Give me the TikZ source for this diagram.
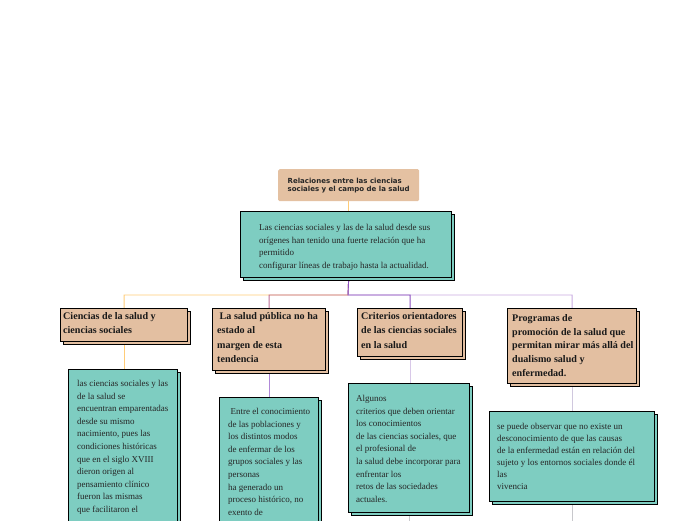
\documentclass[tikz,border=0pt]{standalone}
\usepackage{fontspec}
\setmainfont{Liberation Serif}
\newfontfamily\titlefont{DejaVu Sans}
\usetikzlibrary{shadows}
\pgfdeclarelayer{background}
\pgfsetlayers{background,main}
\definecolor{tealbox}{RGB}{126,205,193}
\definecolor{tanbox}{RGB}{227,191,161}
\definecolor{titlebox}{RGB}{228,193,162}
\definecolor{lnorange}{RGB}{255,204,120}
\definecolor{lnmauve}{RGB}{190,110,150}
\definecolor{lnpurple}{RGB}{140,80,190}
\definecolor{lnlilac}{RGB}{200,170,225}
\definecolor{lnmid}{RGB}{176,136,216}
\definecolor{lnlav}{RGB}{216,200,232}
\definecolor{lnlav2}{RGB}{208,200,222}
\definecolor{lngray}{RGB}{200,200,204}
\tikzset{
  boxbase/.style={draw=black, line width=1.1pt, inner sep=0pt, anchor=north west},
  tealnode/.style={boxbase, fill=tealbox,
    general shadow={shadow xshift=3pt, shadow yshift=-3pt, fill=tealbox, draw=black, line width=1.1pt}},
  tannode/.style={boxbase, fill=tanbox,
    general shadow={shadow xshift=3pt, shadow yshift=-3pt, fill=tanbox, draw=black, line width=1.1pt}},
  bodytext/.style={anchor=north west, inner sep=0pt, align=left, text=black!85,
    font=\fontsize{9}{12.6}\selectfont},
  headtext/.style={anchor=north west, inner sep=0pt, align=left, text=black!90,
    font=\fontsize{10.1}{14.4}\selectfont\bfseries},
  conn/.style={line width=0.9pt}
}
\begin{document}
\begin{tikzpicture}[x=1pt,y=-1pt]
\useasboundingbox (0,0) rectangle (696,520);
\clip (0,0) rectangle (696,520);
% title
\node[fill=titlebox, rounded corners=1.5pt, anchor=north west, minimum width=141pt, minimum height=32pt,
  inner sep=0pt, align=left, font=\titlefont\fontsize{7}{8}\selectfont\bfseries, text=black!85]
  (title) at (278,169) {Relaciones entre las ciencias\\sociales y el campo de la salud};
% main box
\node[tealnode, minimum width=211pt, minimum height=66pt] (main) at (240,211) {};
\node[bodytext] (maintxt) at (259,224) {Las ciencias sociales y las de la salud desde sus\\orígenes han tenido una fuerte relación que ha\\permitido\\configurar líneas de trabajo hasta la actualidad.};
% level 2 tan boxes
\node[tannode, minimum width=127pt, minimum height=33pt] (c1) at (60,308) {};
\node[headtext] (c1txt) at (63,312) {Ciencias de la salud y\\ciencias sociales};
\node[tannode, minimum width=113pt, minimum height=62pt] (c2) at (212,308) {};
\node[headtext] (c2txt) at (217,312) {\hspace*{2.5pt}La salud pública no ha\\estado al\\margen de esta\\tendencia};
\node[tannode, minimum width=105pt, minimum height=48pt] (c3) at (357,308) {};
\node[headtext] (c3txt) at (361,312) {Criterios orientadores\\de las ciencias sociales\\en la salud};
\node[tannode, minimum width=129pt, minimum height=75pt] (c4) at (507,308) {};
\node[headtext, font=\fontsize{10.1}{13.8}\selectfont\bfseries] (c4txt) at (512,314) {Programas de\\promoción de la salud que\\permitan mirar más allá del\\dualismo salud y\\enfermedad.};
% level 3 teal boxes
\node[tealnode, minimum width=109pt, minimum height=170pt] (t1) at (68,369) {};
\node[bodytext] (t1txt) at (77,380) {las ciencias sociales y las\\de la salud se\\encuentran emparentadas\\desde su mismo\\nacimiento, pues las\\condiciones históricas\\que en el siglo XVIII\\dieron origen al\\pensamiento clínico\\fueron las mismas\\que facilitaron el};
\node[tealnode, minimum width=99pt, minimum height=150pt] (t2) at (219,397) {};
\node[bodytext] (t2txt) at (228,408) {\hspace*{2.5pt}Entre el conocimiento\\de las poblaciones y\\los distintos modos\\de enfermar de los\\grupos sociales y las\\personas\\ha generado un\\proceso histórico, no\\exento de};
\node[tealnode, minimum width=121pt, minimum height=129pt] (t3) at (348,383) {};
\node[bodytext] (t3txt) at (356,395) {Algunos\\criterios que deben orientar\\los conocimientos\\de las ciencias sociales, que\\el profesional de\\la salud debe incorporar para\\enfrentar los\\retos de las sociedades\\actuales.};
\node[tealnode, minimum width=165pt, minimum height=90pt] (t4) at (489,411) {};
\node[bodytext, font=\fontsize{9}{12.1}\selectfont] (t4txt) at (497,423) {se puede observar que no existe un\\desconocimiento de que las causas\\de la enfermedad están en relación del\\sujeto y los entornos sociales donde él\\las\\vivencia};
% ends of open connectors
\coordinate (bar) at (348,295);
\coordinate (e3) at (409,530);
\coordinate (e4) at (572,530);
\begin{pgfonlayer}{background}
\draw[conn, lnorange] (title.south) -- (title.south |- main.north);
\draw[conn, lnorange] (title.south |- main.south) -- (bar) -| (c1.north);
\draw[conn, lnmauve] (title.south |- main.south) -- (bar) -| (c2.north);
\draw[conn, lnlilac] (title.south |- main.south) -- (bar) -| (c4.north);
\draw[conn, lnpurple] (title.south |- main.south) -- (bar) -| (c3.north);
\draw[conn, lnorange] (c1.south) -- (c1.south |- t1.north);
\draw[conn, lnmid] (c2.south) -- (c2.south |- t2.north);
\draw[conn, lnlav] (c3.south) -- (c3.south |- t3.north);
\draw[conn, lnlav2] (c4.south) -- (c4.south |- t4.north);
\draw[conn, lngray] (t3.south) -- (t3.south |- e3);
\draw[conn, lngray] (t4.south) -- (t4.south |- e4);
\end{pgfonlayer}
\end{tikzpicture}
\end{document}
